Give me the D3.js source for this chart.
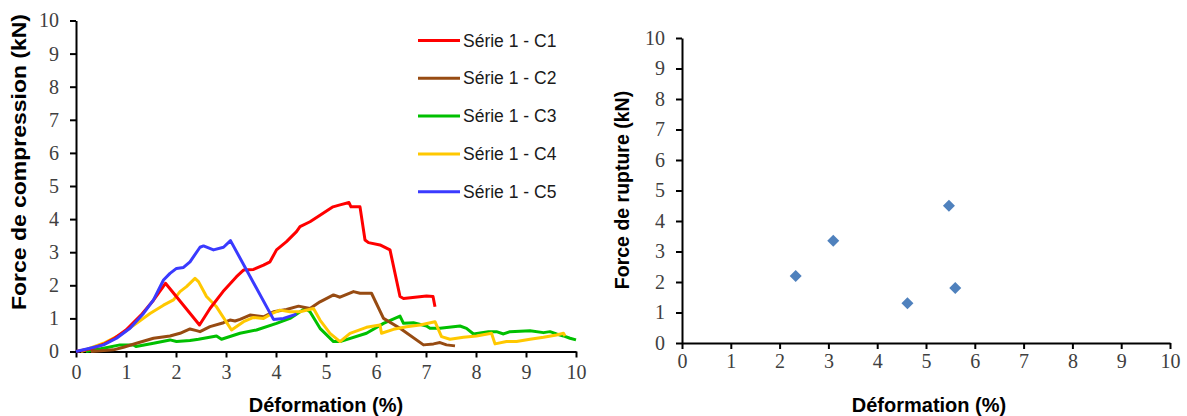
<!DOCTYPE html>
<html><head><meta charset="utf-8">
<script src="https://cdn.jsdelivr.net/npm/d3@7"></script>
<style>body{margin:0;background:#fff}svg{display:block}</style>
</head><body>
<svg id="c" width="1187" height="416"></svg>
<script>
const seriesNames = ["Série 1 - C1","Série 1 - C2","Série 1 - C3","Série 1 - C4","Série 1 - C5"];
const seriesColors = ["#ff0000","#974b12","#00c000","#ffc800","#3a3aff"];

const c1x = [0,0.3,0.55,0.75,1.0,1.3,1.55,1.79,2.47,2.68,2.94,3.21,3.35,3.55,3.75,3.88,4.01,4.21,4.41,4.48,4.68,4.88,5.14,5.28,5.46,5.5,5.68,5.78,5.85,6.08,6.28,6.48,6.55,7.01,7.14,7.18];
const c1y = [0,0.08,0.22,0.38,0.65,1.1,1.55,2.06,0.8,1.3,1.81,2.26,2.46,2.48,2.61,2.71,3.07,3.32,3.62,3.77,3.92,4.12,4.37,4.43,4.5,4.37,4.37,3.37,3.29,3.22,3.07,1.66,1.6,1.68,1.66,1.35];

const c2x = [0.3,0.75,0.95,1.21,1.55,1.88,2.08,2.28,2.41,2.48,2.68,2.95,3.08,3.18,3.28,3.48,3.75,3.95,4.21,4.45,4.68,4.88,5.15,5.28,5.55,5.68,5.91,6.15,6.48,6.95,7.15,7.28,7.41,7.58];
const c2y = [0,0.05,0.13,0.25,0.4,0.47,0.55,0.68,0.63,0.6,0.75,0.87,0.95,0.92,0.97,1.1,1.05,1.2,1.27,1.37,1.3,1.5,1.71,1.64,1.81,1.76,1.76,1.0,0.7,0.2,0.23,0.27,0.2,0.17];

const c3x = [0.2,0.55,0.88,1.15,1.2,1.55,1.88,2.01,2.28,2.45,2.81,2.91,3.28,3.61,4.01,4.28,4.58,4.68,4.88,5.15,5.28,5.81,6.15,6.48,6.55,6.75,7.01,7.08,7.28,7.68,7.81,7.95,8.25,8.41,8.55,8.68,9.08,9.35,9.48,9.61,9.75,9.88,10.0];
const c3y = [0,0.1,0.2,0.2,0.15,0.25,0.35,0.3,0.33,0.37,0.47,0.37,0.55,0.65,0.85,1.0,1.3,1.2,0.7,0.3,0.3,0.55,0.85,1.07,0.85,0.87,0.77,0.7,0.7,0.77,0.7,0.53,0.6,0.6,0.53,0.6,0.63,0.57,0.6,0.53,0.47,0.4,0.35];

const c4x = [0.1,0.55,0.88,1.21,1.48,1.75,1.95,2.08,2.21,2.38,2.45,2.61,2.81,3.11,3.35,3.55,3.75,3.95,4.08,4.28,4.48,4.75,4.88,5.08,5.28,5.48,5.81,6.08,6.11,6.35,6.61,6.88,7.18,7.31,7.48,7.75,8.01,8.31,8.38,8.61,8.81,9.08,9.35,9.61,9.75,9.78];
const c4y = [0,0.25,0.5,0.85,1.15,1.4,1.56,1.81,1.96,2.21,2.11,1.66,1.35,0.65,0.9,1.03,1.0,1.17,1.25,1.2,1.2,1.3,0.95,0.55,0.3,0.55,0.73,0.8,0.55,0.67,0.75,0.8,0.9,0.45,0.37,0.43,0.47,0.55,0.23,0.3,0.3,0.37,0.43,0.5,0.55,0.47];

const c5x = [0,0.28,0.55,0.81,1.08,1.35,1.55,1.75,1.88,2.01,2.15,2.28,2.48,2.55,2.75,2.95,3.09,3.95,4.15,4.41];
const c5y = [0,0.1,0.2,0.4,0.7,1.15,1.56,2.16,2.36,2.51,2.54,2.71,3.15,3.19,3.07,3.15,3.35,0.97,1.0,1.13];

const ruptureX = [2.33,3.1,4.62,5.47,5.6];
const ruptureY = [2.2,3.35,1.3,4.5,1.8];

const xTicks = [0,1,2,3,4,5,6,7,8,9,10];
const yTicks = [0,1,2,3,4,5,6,7,8,9,10];
const xTitle = "Déformation (%)";
const yTitleLeft = "Force de compression (kN)";
const yTitleRight = "Force de rupture (kN)";

const svg = d3.select("#c");
const tickFont = "'Liberation Serif', serif";
const titleFont = "'Liberation Sans', Arial, sans-serif";

function drawAxes(g, x, y, opts){
  const xa = g.append("g").attr("transform",`translate(0,${y(0)})`)
    .call(d3.axisBottom(x).tickValues(xTicks).tickSize(6).tickSizeOuter(0).tickFormat(d3.format("d")));
  const ya = g.append("g").attr("transform",`translate(${x(0)},0)`)
    .call(d3.axisLeft(y).tickValues(yTicks).tickSize(6).tickSizeOuter(0).tickFormat(d3.format("d")));
  [xa,ya].forEach(a=>{
    a.select(".domain").attr("stroke","#000").attr("stroke-width",2);
    a.selectAll(".tick line").attr("stroke","#000").attr("stroke-width",2);
    a.selectAll(".tick text").attr("fill","#404040").style("font-family",tickFont).style("font-size",opts.tickSize+"px");
  });
  xa.selectAll(".tick text").attr("y",opts.xoff).attr("dy","0.71em");
  ya.selectAll(".tick text").attr("x",-opts.yoff);
}

// Left chart
const xL = d3.scaleLinear().domain([0,10]).range([76,576]);
const yL = d3.scaleLinear().domain([0,10]).range([351.5,20.5]);
const gL = svg.append("g");
drawAxes(gL,xL,yL,{tickSize:20,xoff:13,yoff:17});

const allSeries = [[c1x,c1y],[c2x,c2y],[c3x,c3y],[c4x,c4y],[c5x,c5y]];
const line = d3.line().x(d=>xL(d[0])).y(d=>yL(d[1]));
const drawOrder = [2,1,3,0,4];
drawOrder.forEach(i=>{
  const pts = allSeries[i][0].map((v,k)=>[v,allSeries[i][1][k]]);
  gL.append("path").datum(pts).attr("d",line).attr("fill","none")
    .attr("stroke",seriesColors[i]).attr("stroke-width",3).attr("stroke-linejoin","round");
});

// legend
const leg = gL.append("g");
seriesNames.forEach((n,i)=>{
  const yy = 40.5 + i*37.8;
  leg.append("line").attr("x1",418).attr("x2",460).attr("y1",yy).attr("y2",yy)
    .attr("stroke",seriesColors[i]).attr("stroke-width",3);
  leg.append("text").attr("x",463).attr("y",yy).attr("dy","0.35em").text(n)
    .style("font-family",titleFont).style("font-size","17.5px").attr("fill","#1a1a1a");
});

gL.append("text").attr("x",326).attr("y",412).attr("text-anchor","middle").text(xTitle)
  .style("font-family",titleFont).style("font-size","20px").style("font-weight","bold");
gL.append("text").attr("transform","translate(26,162) rotate(-90)").attr("text-anchor","middle").text(yTitleLeft)
  .style("font-family",titleFont).style("font-size","20px").style("font-weight","bold")
  .attr("textLength",296).attr("lengthAdjust","spacingAndGlyphs");

// Right chart
const xR = d3.scaleLinear().domain([0,10]).range([682,1170]);
const yR = d3.scaleLinear().domain([0,10]).range([343,38]);
const gR = svg.append("g");
drawAxes(gR,xR,yR,{tickSize:20,xoff:11,yoff:17});

gR.selectAll("path.pt").data(ruptureX.map((v,i)=>[v,ruptureY[i]])).enter().append("path")
  .attr("d",d3.symbol(d3.symbolSquare).size(72))
  .attr("transform",d=>`translate(${xR(d[0])},${yR(d[1])}) rotate(45)`).attr("fill","#4f81bd");

gR.append("text").attr("x",929).attr("y",412).attr("text-anchor","middle").text(xTitle)
  .style("font-family",titleFont).style("font-size","20px").style("font-weight","bold");
gR.append("text").attr("transform","translate(629,190) rotate(-90)").attr("text-anchor","middle").text(yTitleRight)
  .style("font-family",titleFont).style("font-size","19.5px").style("font-weight","bold");
</script>
</body></html>
